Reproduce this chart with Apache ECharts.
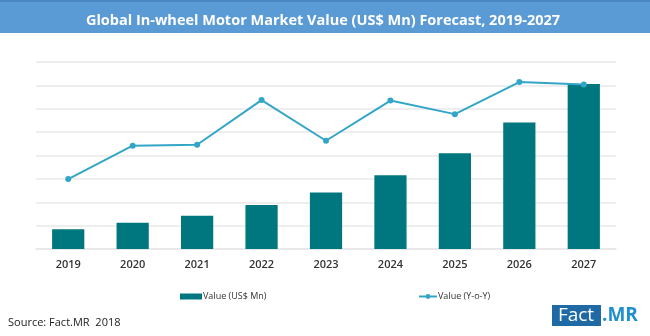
<!DOCTYPE html>
<html>
<head>
<meta charset="utf-8">
<script src="https://cdn.jsdelivr.net/npm/echarts@6/dist/echarts.min.js"></script>
<style>html,body{margin:0;padding:0;background:#fff;}#c{width:650px;height:336px;}</style>
</head>
<body>
<div id="c"></div>
<script>
var categories = ['2019','2020','2021','2022','2023','2024','2025','2026','2027'];
var valueMn = [0.85, 1.12, 1.42, 1.88, 2.42, 3.16, 4.10, 5.41, 7.06];
var valueYoY = [2.99, 4.42, 4.46, 6.37, 4.63, 6.35, 5.77, 7.14, 7.04];
var titleText = 'Global In-wheel Motor Market Value (US$ Mn) Forecast, 2019-2027';
var sourceText = 'Source: Fact.MR  2018';

var chart = echarts.init(document.getElementById('c'), null, {renderer: 'canvas'});
chart.setOption({
  backgroundColor: '#ffffff',
  animation: false,
  title: {
    text: titleText,
    left: 318, top: 8, textAlign: 'center',
    textStyle: {color: '#ffffff', fontFamily: 'Open Sans', fontWeight: 'bold', fontSize: 14.5}
  },
  graphic: [
    {type: 'rect', shape: {x: 0, y: 0, width: 650, height: 33}, style: {fill: '#5b9bd5'}, z: -1},
    {type: 'rect', shape: {x: 0, y: 0, width: 650, height: 2}, style: {fill: '#4a86c0'}, z: -1},
    {type: 'text', left: 8, top: 317, style: {text: sourceText, fill: '#222', font: '11px "Open Sans"'}},
    {type: 'rect', shape: {x: 552, y: 305, width: 49, height: 21}, style: {fill: '#1f6aa5'}, z: 10},
    {type: 'text', z: 11, style: {x: 576, y: 316, text: 'Fact', fill: '#fff', font: '19px "Open Sans"', textAlign: 'center', textVerticalAlign: 'middle'}},
    {type: 'text', z: 11, style: {x: 602, y: 316, text: '.MR', fill: '#1f8fcf', font: 'bold 19px "Open Sans"', textAlign: 'left', textVerticalAlign: 'middle'}}
  ],
  legend: [
    {data: [{name: 'Value (US$ Mn)'}], left: 175, top: 287, itemWidth: 22, itemHeight: 6, itemGap: 2,
     textStyle: {fontSize: 9, color: '#333', fontFamily: 'Open Sans', padding: [0,0,0,-4]}, icon: 'rect'},
    {data: [{name: 'Value (Y-o-Y)'}], left: 413, top: 287, itemWidth: 18, itemHeight: 6,
     textStyle: {fontSize: 9, color: '#333', fontFamily: 'Open Sans', padding: [0,0,0,-4]}}
  ],
  grid: {left: 36, right: 34, top: 62, bottom: 87, containLabel: false},
  xAxis: {
    type: 'category', data: categories,
    axisLine: {show: true, lineStyle: {color: '#e6e6e6', width: 1.5}},
    axisTick: {show: false},
    axisLabel: {color: '#333', fontSize: 11, fontWeight: 600, fontFamily: 'Open Sans', margin: 10}
  },
  yAxis: {
    type: 'value', min: 0, max: 8, interval: 1,
    axisLabel: {show: false}, axisLine: {show: false}, axisTick: {show: false},
    splitLine: {lineStyle: {color: '#e8e8e8', width: 1.5}}
  },
  series: [
    {name: 'Value (US$ Mn)', type: 'bar', data: valueMn, barWidth: '50%',
     itemStyle: {color: '#00777e'}},
    {name: 'Value (Y-o-Y)', type: 'line', data: valueYoY, symbol: 'circle', symbolSize: 6,
     lineStyle: {color: '#33a6c8', width: 2}, itemStyle: {color: '#33a6c8'}}
  ]
});
</script>
</body>
</html>
